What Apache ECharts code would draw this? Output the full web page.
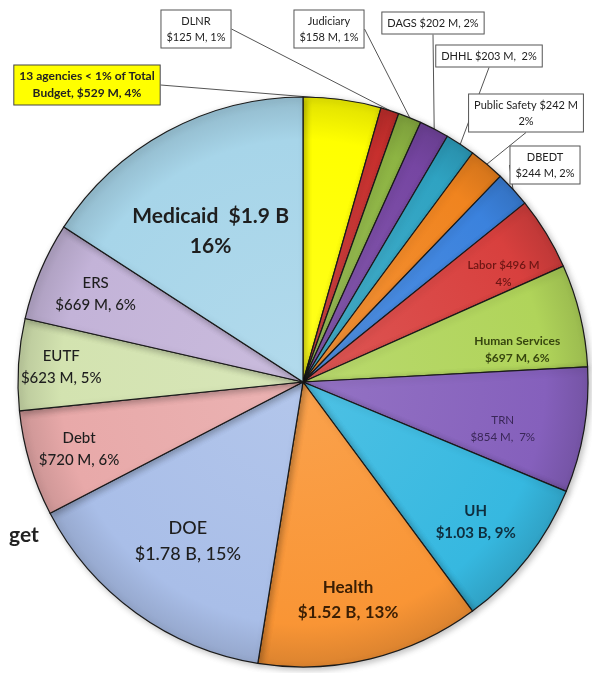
<!DOCTYPE html>
<html>
<head>
<meta charset="utf-8">
<script src="https://cdn.jsdelivr.net/npm/echarts@6/dist/echarts.min.js"></script>
<style>
html,body{margin:0;padding:0;background:#fff;}
#chart{width:592px;height:673px;}
</style>
</head>
<body>
<div id="chart"></div>
<script>
// ---- data ----
const categories = ['13 agencies < 1% of Total Budget', 'DLNR', 'Judiciary', 'DAGS', 'DHHL', 'Public Safety', 'DBEDT', 'Labor', 'Human Services', 'TRN', 'UH', 'Health', 'DOE', 'Debt', 'EUTF', 'ERS', 'Medicaid'];
const values = [529, 125, 158, 202, 203, 242, 244, 496, 697, 854, 1030, 1520, 1780, 720, 623, 669, 1900];
const labelTexts = [
  '13 agencies < 1% of Total\nBudget, $529 M, 4%',
  'DLNR\n$125 M, 1%',
  'Judiciary\n$158 M, 1%',
  'DAGS $202 M, 2%',
  'DHHL $203 M,  2%',
  'Public Safety $242 M\n2%',
  'DBEDT\n$244 M, 2%',
  'Labor $496 M\n4%',
  'Human Services\n$697 M, 6%',
  'TRN\n$854 M,  7%',
  'UH\n$1.03 B, 9%',
  'Health\n$1.52 B, 13%',
  'DOE\n$1.78 B, 15%',
  'Debt\n$720 M, 6%',
  'EUTF\n$623 M, 5%',
  'ERS\n$669 M, 6%',
  'Medicaid  $1.9 B\n16%'
];
const calloutNames = ['13 agencies < 1% of Total Budget', 'DLNR', 'Judiciary', 'DAGS', 'DHHL', 'Public Safety', 'DBEDT'];

// ---- styles ----
const colors = ['#FFFF00', '#C8302E', '#8DB443', '#7646A2', '#2FA3C2', '#F0841F', '#3B82DD', '#D8403E', '#B0D45A', '#8560BC', '#36B8E0', '#F99535', '#A9BEE8', '#E8A9A9', '#D3E3B0', '#C3B3D8', '#A7D5E9'];
const textColors = { 'Labor': '#6E1614', 'Human Services': '#37460F', 'TRN': '#3A2758', 'UH': '#0F2E3E', 'Health': '#3A1E04' };
const fontSizes = { 'Labor': 11.5, 'Human Services': 12, 'TRN': 11.5, 'UH': 15, 'Health': 17, 'DOE': 18, 'Debt': 15, 'EUTF': 15, 'ERS': 15, 'Medicaid': 21 };
const fontWeights = { 'Labor': 600, 'Human Services': 700, 'TRN': 400, 'UH': 700, 'Health': 700, 'DOE': 500, 'Debt': 500, 'EUTF': 500, 'ERS': 500, 'Medicaid': 700 };
// label placement inside slices: radius as a fraction of the pie radius, and an angular nudge in degrees
const labelRadius = { 'Medicaid': 0.62, 'ERS': 0.79, 'EUTF': 0.85, 'Debt': 0.82, 'DOE': 0.69, 'Health': 0.78, 'UH': 0.78, 'TRN': 0.72, 'Human Services': 0.76, 'Labor': 0.80 };
const labelNudge = { 'Medicaid': -3, 'Health': 2, 'UH': 1, 'TRN': 3.5, 'Human Services': 5, 'Labor': 3 };
const calloutPos = {
  '13 agencies < 1% of Total Budget': [87, 85],
  'DLNR': [196, 29],
  'Judiciary': [329, 29],
  'DAGS': [433, 23],
  'DHHL': [489, 56],
  'Public Safety': [526, 113],
  'DBEDT': [545, 165]
};
const CX = 303, CY = 382, R = 285;
const FONT = 'Lato, "Open Sans", sans-serif';

function shade(hex, f) {
  const n = parseInt(hex.slice(1), 16);
  let r = (n >> 16) & 255, g = (n >> 8) & 255, b = n & 255;
  if (f < 0) { r = r * (1 + f); g = g * (1 + f); b = b * (1 + f); }
  else { r = r + (255 - r) * f; g = g + (255 - g) * f; b = b + (255 - b) * f; }
  return 'rgb(' + Math.round(r) + ',' + Math.round(g) + ',' + Math.round(b) + ')';
}

const mainData = categories.map((name, i) => {
  const isCallout = calloutNames.indexOf(name) >= 0;
  const isYellow = i === 0;
  return {
    name: name,
    value: values[i],
    itemStyle: {
      color: {
        type: 'radial', x: CX, y: CY, r: R, global: true,
        colorStops: [
          { offset: 0, color: shade(colors[i], 0.12) },
          { offset: 0.85, color: colors[i] },
          { offset: 1, color: shade(colors[i], -0.12) }
        ]
      }
    },
    label: isCallout ? {
      show: true,
      position: 'outside',
      formatter: labelTexts[i],
      color: '#222',
      fontFamily: FONT,
      fontSize: isYellow ? 12 : 11,
      fontWeight: isYellow ? 700 : 400,
      lineHeight: isYellow ? 17 : 16,
      align: 'center',
      backgroundColor: isYellow ? '#FFFF00' : '#fff',
      borderColor: isYellow ? '#444' : '#555',
      borderWidth: 1,
      padding: [3, 5, 2, 5]
    } : { show: false },
    labelLine: isCallout ? { show: true } : { show: false }
  };
});

const overlayData = categories.map((name, i) => {
  const isCallout = calloutNames.indexOf(name) >= 0;
  return {
    name: name,
    value: values[i],
    label: isCallout ? { show: false } : {
      show: true,
      position: 'inside',
      formatter: labelTexts[i],
      color: textColors[name] || '#1E1E1E',
      fontFamily: FONT,
      fontSize: fontSizes[name],
      fontWeight: fontWeights[name],
      lineHeight: Math.round(fontSizes[name] * 1.45),
      align: 'center'
    }
  };
});

const chart = echarts.init(document.getElementById('chart'), null, { renderer: 'canvas' });
chart.setOption({
  backgroundColor: '#fff',
  animation: false,
  title: {
    text: 'get',
    left: 4,
    top: 520,
    textStyle: { fontFamily: FONT, fontSize: 21, fontWeight: 700, color: '#222' }
  },
  series: [
    {
      type: 'pie',
      center: [CX, CY],
      radius: [0, R],
      startAngle: 90,
      clockwise: true,
      avoidLabelOverlap: false,
      itemStyle: { borderColor: '#1a1a1a', borderWidth: 1.2, shadowBlur: 6, shadowColor: 'rgba(0,0,0,0.25)', shadowOffsetX: 2, shadowOffsetY: 2 },
      emphasis: { disabled: true },
      labelLine: { length: 10, length2: 0, lineStyle: { color: '#555', width: 1 } },
      labelLayout: function (params) {
        const p = calloutPos[categories[params.dataIndex]];
        if (!p) return {};
        return { x: p[0], y: p[1], align: 'center', verticalAlign: 'middle' };
      },
      data: mainData
    },
    {
      type: 'pie',
      center: [CX, CY],
      radius: [118, R],
      startAngle: 90,
      clockwise: true,
      silent: true,
      avoidLabelOverlap: false,
      itemStyle: { color: 'rgba(0,0,0,0)', borderWidth: 0 },
      labelLine: { show: false },
      emphasis: { disabled: true },
      labelLayout: function (params) {
        const name = categories[params.dataIndex];
        const f = labelRadius[name];
        if (!f) return {};
        const lr = params.labelRect;
        const lx = lr.x + lr.width / 2, ly = lr.y + lr.height / 2;
        const a = Math.atan2(ly - CY, lx - CX) + (labelNudge[name] || 0) * Math.PI / 180;
        return { x: CX + Math.cos(a) * f * R, y: CY + Math.sin(a) * f * R, align: 'center', verticalAlign: 'middle' };
      },
      data: overlayData
    }
  ]
});
</script>
</body>
</html>
